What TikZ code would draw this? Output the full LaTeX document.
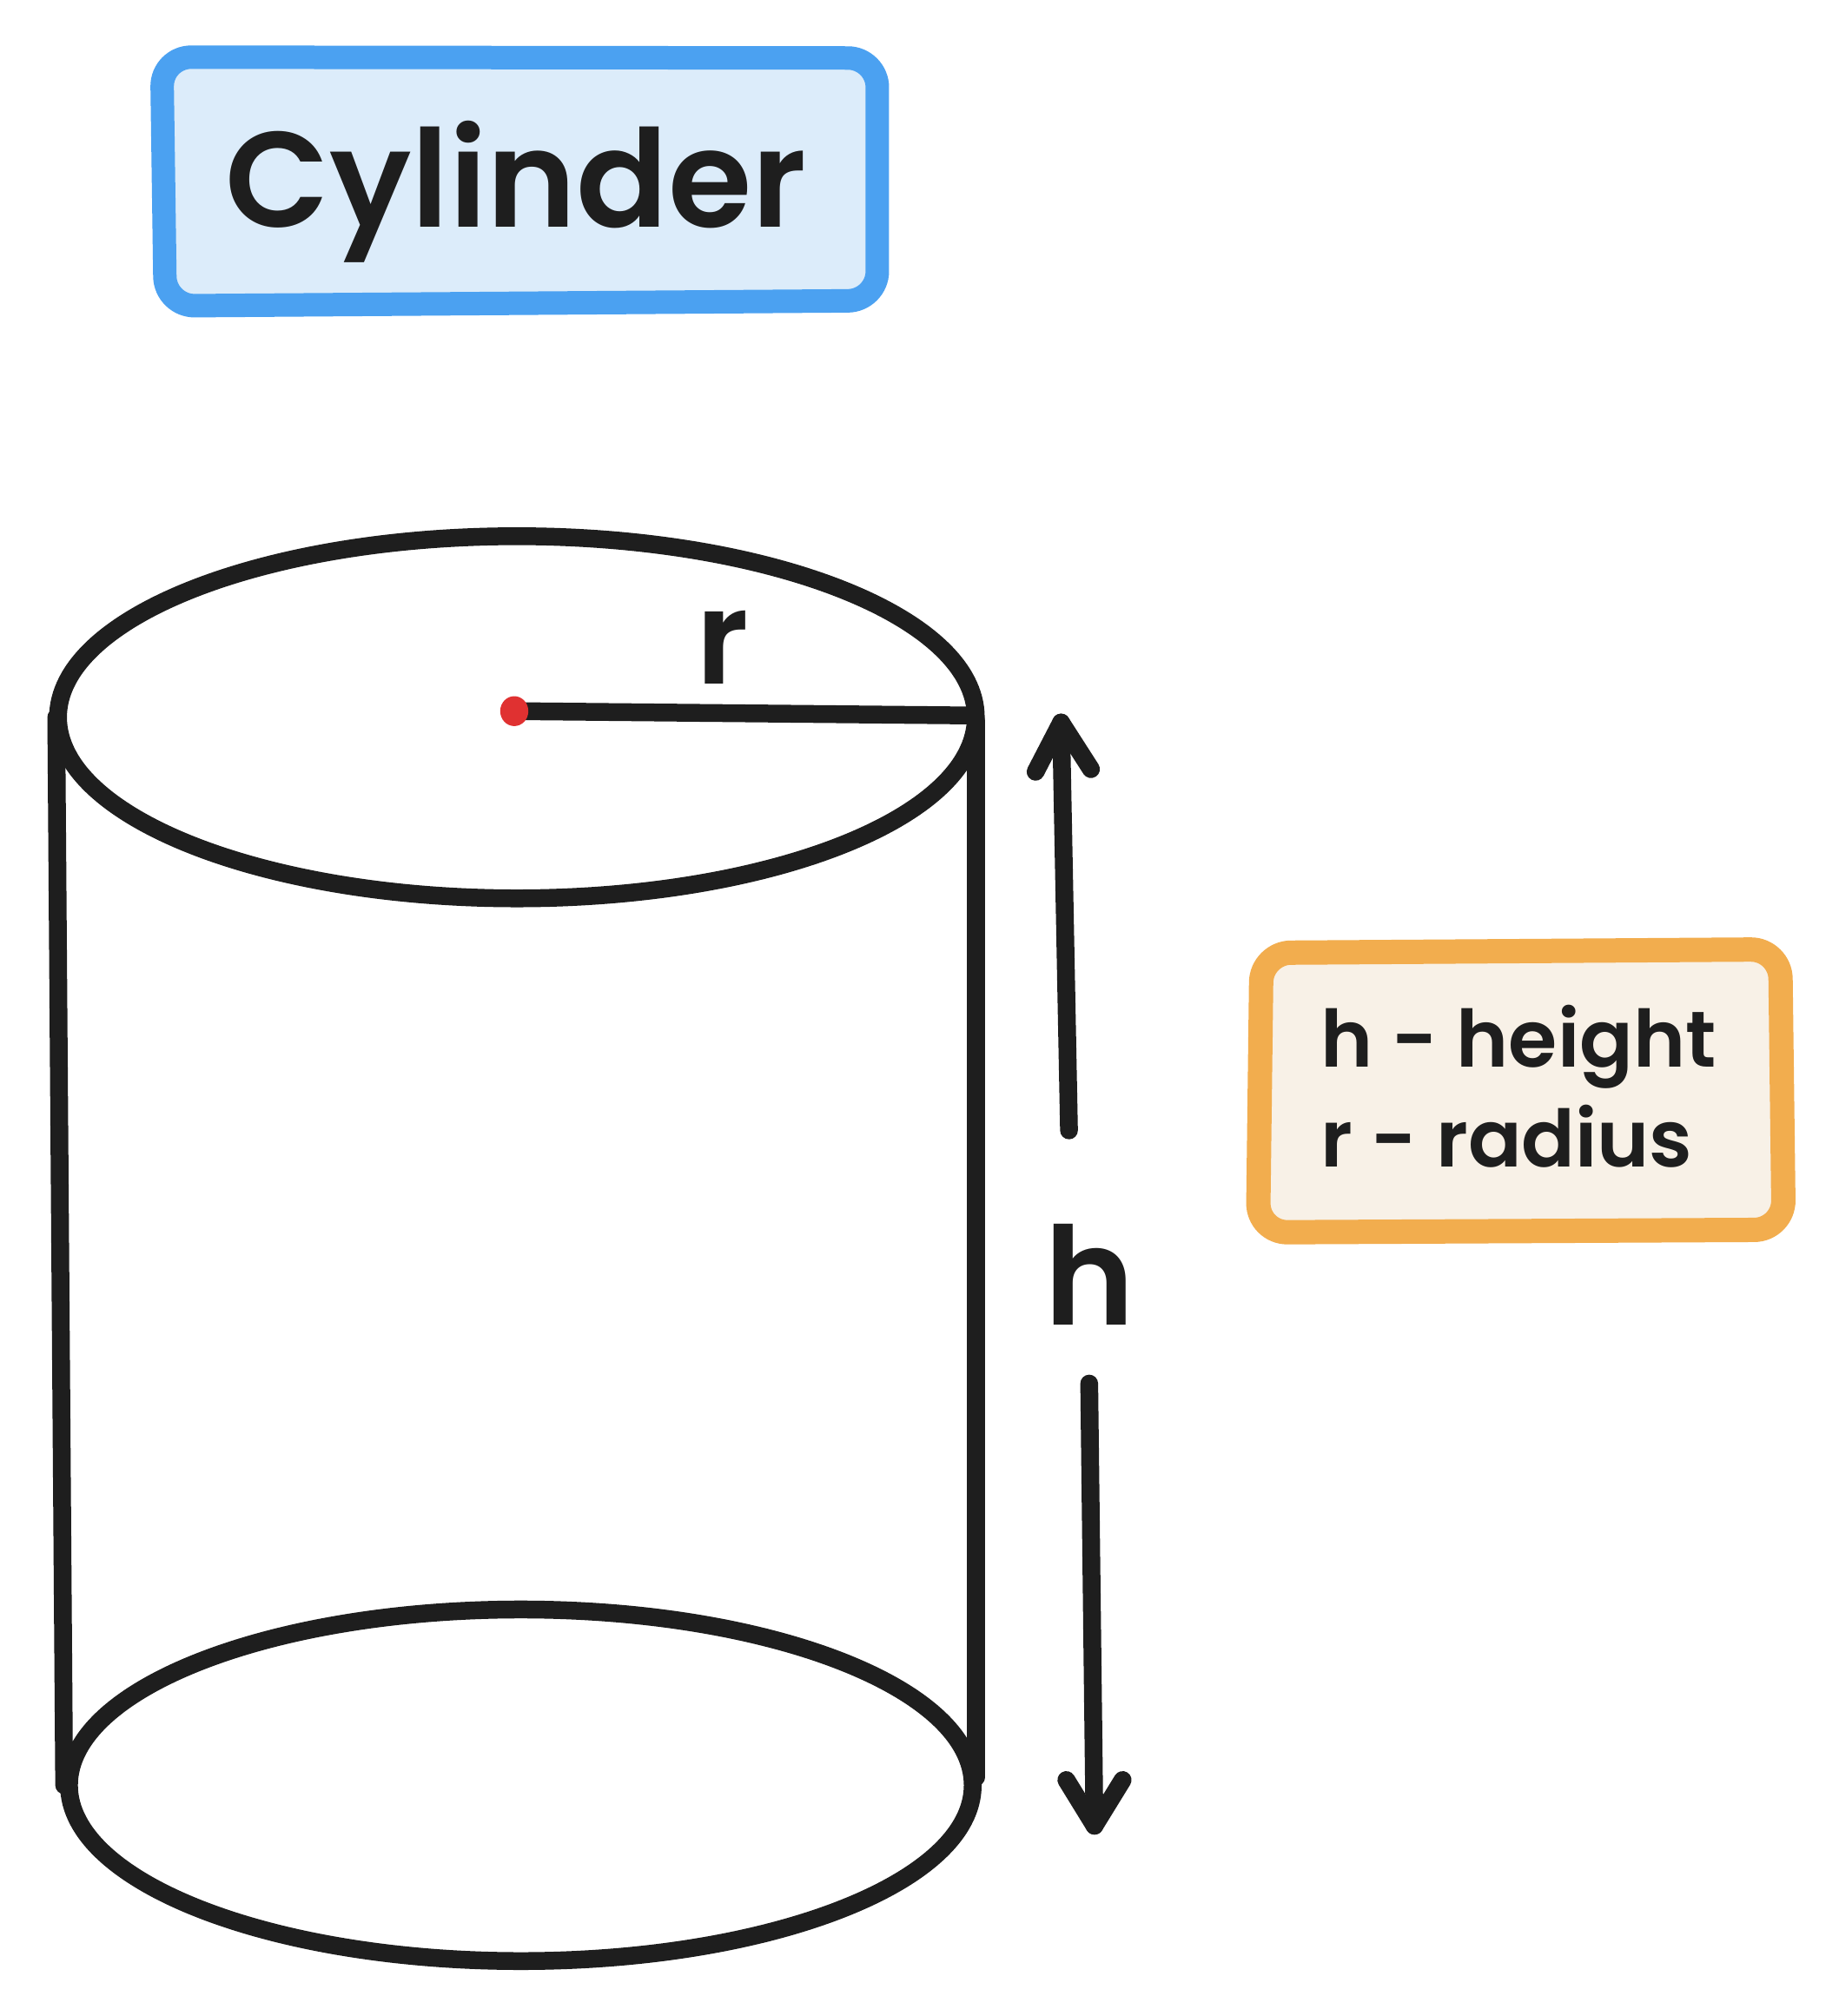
\documentclass[tikz,border=0pt]{standalone}
\usepackage{fontspec}
\setmainfont{Poppins}[BoldFont={Poppins SemiBold}]
\definecolor{ink}{HTML}{1E1E1E}
\definecolor{blueline}{HTML}{4BA1F1}
\definecolor{bluefill}{HTML}{DCECFA}
\definecolor{orangeline}{HTML}{F2AD4E}
\definecolor{orangefill}{HTML}{F8F1E7}
\definecolor{dotred}{HTML}{E03131}
\tikzset{
  stroke/.style={draw=ink,line width=20.5pt,line cap=round,line join=round},
  hand/.style={text=ink,inner sep=0pt},
  titlebox/.style={draw=blueline,fill=bluefill,line width=27pt,rounded corners=34pt},
  notebox/.style={draw=orangeline,fill=orangefill,line width=28pt,rounded corners=34pt}
}
\begin{document}
\begin{tikzpicture}[x=1.012pt,y=-1.012pt]
\useasboundingbox (0,0) rectangle (2091.9,2293.5);
\fill[white] (0,0) rectangle (2091.9,2293.5);
% title box
\draw[titlebox] (184,65) -- (998,66) -- (998,342) -- (188,348) -- cycle;
\node[hand,anchor=base,font=\bfseries\fontsize{156}{156}\selectfont] (title) at (587,258) {Cylinder};
% note box
\draw[notebox] (1435,1084) -- (2025,1080) -- (2029,1399) -- (1431,1402) -- cycle;
\node[hand,anchor=base west,font=\bfseries\fontsize{91}{91}\selectfont] (noteh) at (1502,1214) {h - height};
\node[hand,anchor=base west,font=\bfseries\fontsize{91}{91}\selectfont] (noter) at (1502,1328) {r - radius};
% cylinder
\coordinate (topc) at (588,816);
\coordinate (botc) at (592.5,2031);
\coordinate (topl) at (64,816);
\coordinate (topr) at (1110,820);
\coordinate (botl) at (73,2031);
\coordinate (botr) at (1110,2022);
\coordinate (cen) at (585,809);
\coordinate (rim) at (1109,814);
\draw[stroke] (topc) ellipse [x radius=522,y radius=206];
\draw[stroke] (botc) ellipse [x radius=514,y radius=200];
\draw[stroke] (topl) -- (botl);
\draw[stroke] (topr) -- (botr);
\draw[stroke,line cap=butt] (cen) -- (rim);
\fill[dotred] (cen) ellipse [x radius=16,y radius=17];
\node[hand,font=\bfseries\fontsize{150}{150}\selectfont,anchor=base] (rlabel) at (822,778) {r};
% height arrows
\coordinate (uptail) at (1216,1286);
\coordinate (uptip) at (1207,822);
\coordinate (upa) at (1178,878);
\coordinate (upb) at (1241,875);
\coordinate (dntail) at (1239,1574);
\coordinate (dntip) at (1245,2077);
\coordinate (dna) at (1213,2025);
\coordinate (dnb) at (1277,2025);
\draw[stroke] (uptail) -- (uptip);
\draw[stroke] (upa) -- (uptip) -- (upb);
\draw[stroke] (dntail) -- (dntip);
\draw[stroke] (dna) -- (dntip) -- (dnb);
\node[hand,font=\bfseries\fontsize{157}{157}\selectfont,anchor=base] (hlabel) at (1240,1507) {h};
\end{tikzpicture}
\end{document}
